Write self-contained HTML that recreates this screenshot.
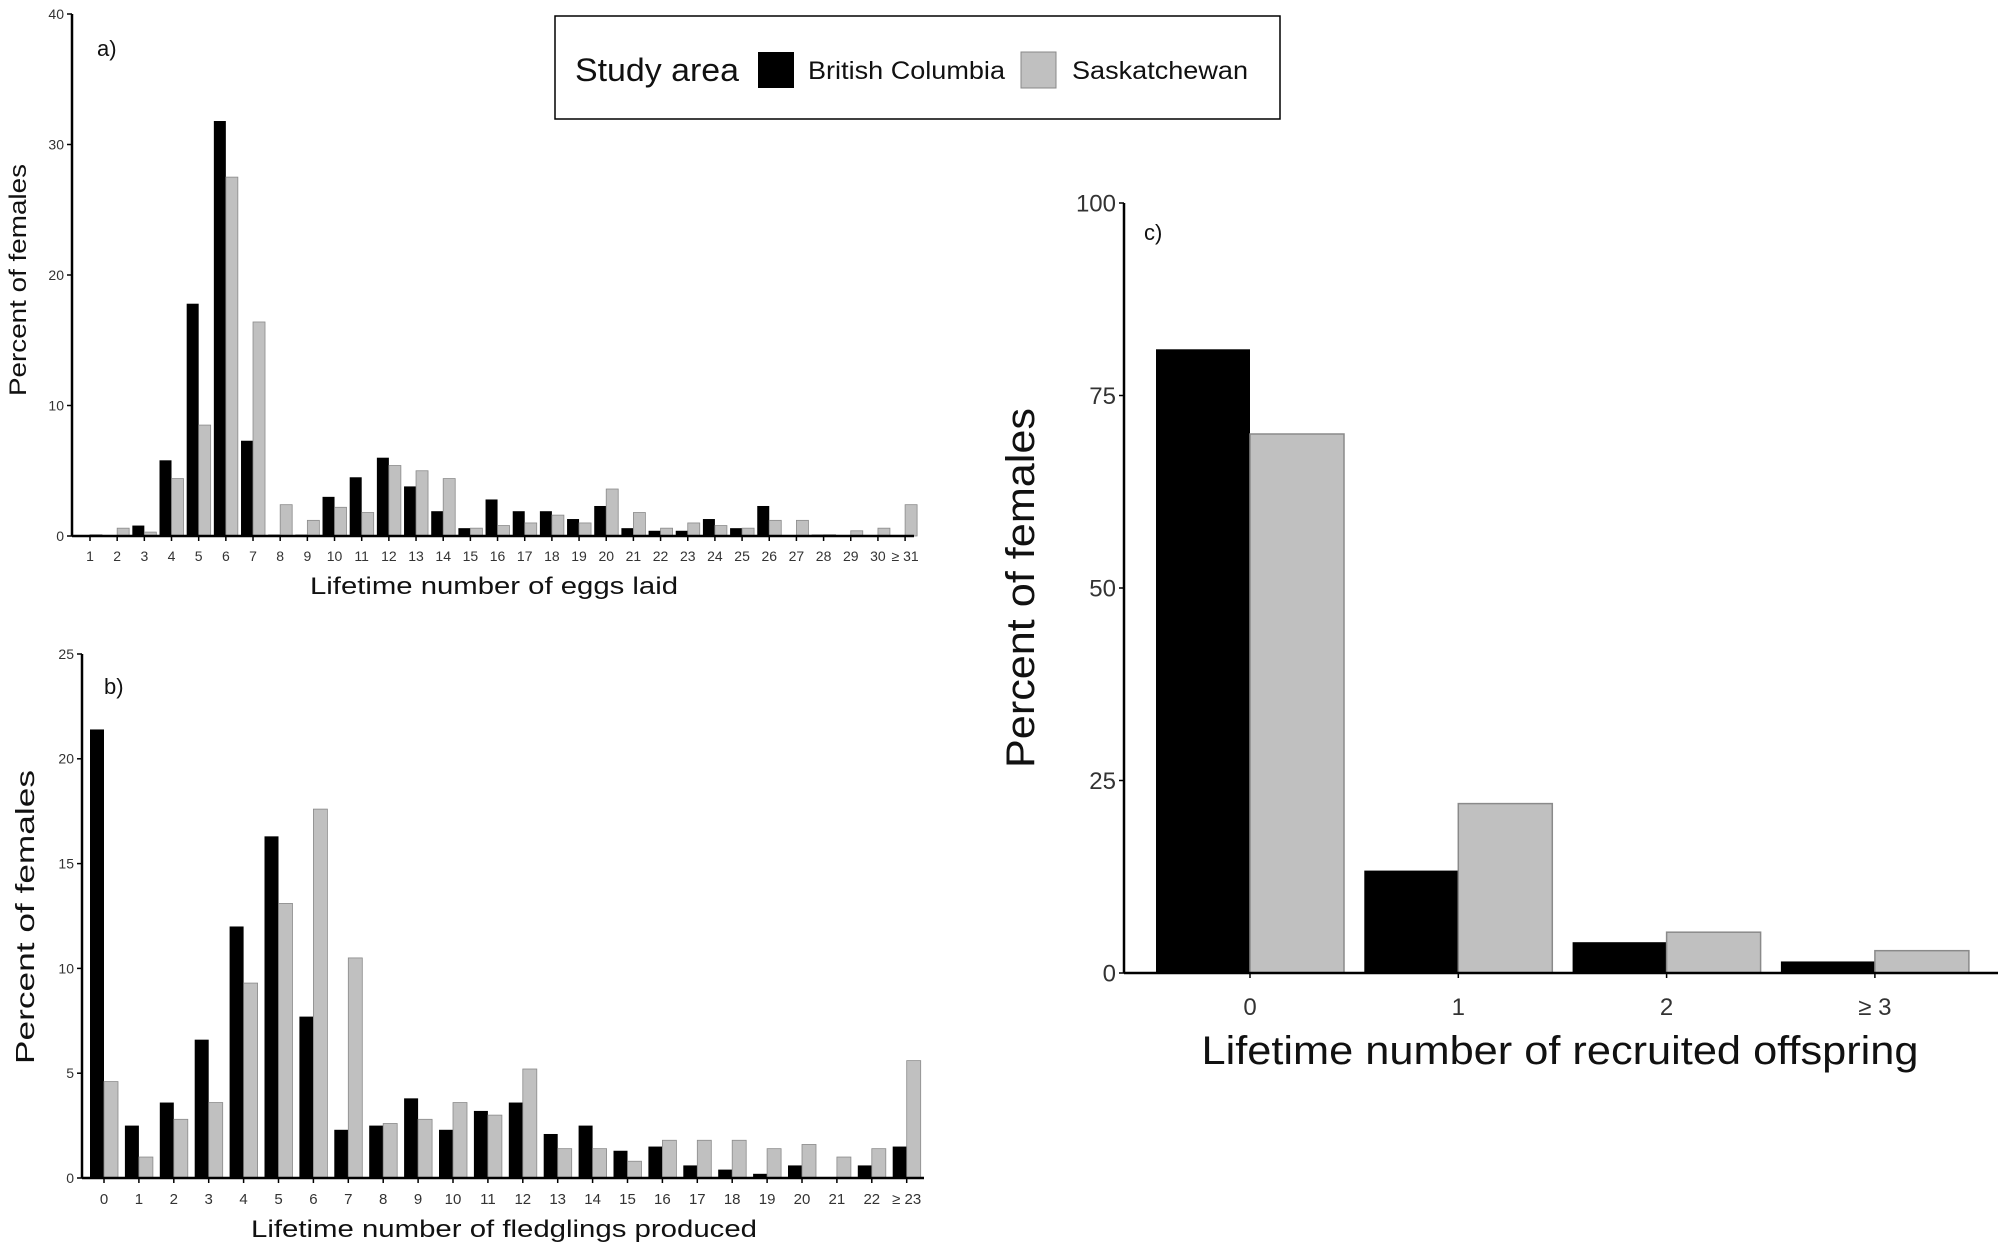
<!DOCTYPE html>
<html><head><meta charset="utf-8"><style>
html,body{margin:0;padding:0;background:#fff;}
svg{display:block;font-family:"Liberation Sans",sans-serif;}
</style></head><body>
<svg id="fig" width="2006" height="1250" viewBox="0 0 2006 1250" xmlns="http://www.w3.org/2000/svg">
  <g>
    <rect x="555" y="16" width="725" height="103" fill="#fff" stroke="#000" stroke-width="1.5"/>
    <text x="575" y="81" font-size="32" fill="#111" textLength="164" lengthAdjust="spacingAndGlyphs">Study area</text>
    <rect x="758" y="52" width="36" height="36" fill="#000"/>
    <text x="808" y="79" font-size="25" fill="#111" textLength="197" lengthAdjust="spacingAndGlyphs">British Columbia</text>
    <rect x="1021" y="52" width="35" height="36" fill="#c0c0c0" stroke="#888"/>
    <text x="1072" y="79" font-size="25" fill="#111" textLength="176" lengthAdjust="spacingAndGlyphs">Saskatchewan</text>
  </g>
</svg>
<script>
const catsA = ["1","2","3","4","5","6","7","8","9","10","11","12","13","14","15","16","17","18","19","20","21","22","23","24","25","26","27","28","29","30","≥ 31"];
const bcA = [0,0,0.8,5.8,17.8,31.8,7.3,0.1,0.1,3.0,4.5,6.0,3.8,1.9,0.6,2.8,1.9,1.9,1.3,2.3,0.6,0.4,0.4,1.3,0.6,2.3,0,0.1,0,0,0];
const skA = [0.1,0.6,0.3,4.4,8.5,27.5,16.4,2.4,1.2,2.2,1.8,5.4,5.0,4.4,0.6,0.8,1.0,1.6,1.0,3.6,1.8,0.6,1.0,0.8,0.6,1.2,1.2,0.1,0.4,0.6,2.4];
const ticksA = [0,10,20,30,40];

const catsB = ["0","1","2","3","4","5","6","7","8","9","10","11","12","13","14","15","16","17","18","19","20","21","22","≥ 23"];
const bcB = [21.4,2.5,3.6,6.6,12.0,16.3,7.7,2.3,2.5,3.8,2.3,3.2,3.6,2.1,2.5,1.3,1.5,0.6,0.4,0.2,0.6,0,0.6,1.5];
const skB = [4.6,1.0,2.8,3.6,9.3,13.1,17.6,10.5,2.6,2.8,3.6,3.0,5.2,1.4,1.4,0.8,1.8,1.8,1.8,1.4,1.6,1.0,1.4,5.6];
const ticksB = [0,5,10,15,20,25];

const catsC = ["0","1","2","≥ 3"];
const bcC = [81,13.3,4,1.5];
const skC = [70,22,5.3,2.9];
const ticksC = [0,25,50,75,100];

const NS = "http://www.w3.org/2000/svg";
const svg = document.getElementById('fig');
function mk(tag, attrs, parent){const e=document.createElementNS(NS,tag);for(const k in attrs)e.setAttribute(k,attrs[k]);(parent||svg).appendChild(e);return e;}

function chart(o){
  const g = mk('g',{});
  
  
  const y = v => o.y0 - (v - 0) / o.ymax * (o.y0 - o.yTop);
  const x = i => o.c0 + i * o.step;
  o.cats.forEach((c,i)=>{
    if (o.bc[i] > 0) {
      const r = mk('rect',{x:x(i)-o.bw, y:y(o.bc[i]), width:o.bw, height:o.y0 - y(o.bc[i]), fill:'#000'}, g);
      
      
    }
    if (o.sk[i] > 0) {
      const r2 = mk('rect',{x:x(i), y:y(o.sk[i]), width:o.bw, height:o.y0 - y(o.sk[i]), fill:'#c0c0c0', stroke:'#8a8a8a', 'stroke-width':o.sw}, g);
      
      
    }
  });
  const ya = mk('line',{x1:o.ax, y1:o.yTop, x2:o.ax, y2:o.y0, stroke:'#000', 'stroke-width':o.aw}, g);
  
  
  const xa = mk('line',{x1:o.ax, y1:o.y0, x2:o.xEnd, y2:o.y0, stroke:'#000', 'stroke-width':o.aw}, g);
  
  
  o.ticks.forEach(t=>{
    mk('line',{x1:o.ax-5, y1:y(t), x2:o.ax, y2:y(t), stroke:'#000', 'stroke-width':1.5}, g);
    const tl = mk('text',{x:o.ax-8, y:y(t)+o.tf*0.35, 'font-size':o.tf, 'text-anchor':'end', fill:'#333'}, g);
    tl.textContent = t;
    
    
  });
  o.cats.forEach((c,i)=>{
    mk('line',{x1:x(i), y1:o.y0, x2:x(i), y2:o.y0+5, stroke:'#000', 'stroke-width':1.5}, g);
    const tl = mk('text',{x:x(i), y:o.xly, 'font-size':o.xf, 'text-anchor':'middle', fill:'#333'}, g);
    tl.textContent = c;
    
    
  });
  const xt = mk('text',{x:o.xtx, y:o.xty, 'font-size':o.titf, 'text-anchor':'middle', fill:'#111', textLength:o.xtl, lengthAdjust:'spacingAndGlyphs'}, g);
  xt.textContent = o.xtitle;
  
  
  const yt = mk('text',{x:0, y:0, 'font-size':o.ytf, 'text-anchor':'middle', fill:'#111', transform:`translate(${o.ytx},${o.yty}) rotate(-90)`, textLength:o.ytl, lengthAdjust:'spacingAndGlyphs'}, g);
  yt.textContent = 'Percent of females';
  
  
  const pl = mk('text',{x:o.plx, y:o.ply, 'font-size':o.plf, fill:'#111'}, g);
  pl.textContent = o.panel;
  
  
}

chart({name:'chart-a-eggs', cats:catsA, bc:bcA, sk:skA, ticks:ticksA, ymax:40, y0:536, yTop:14, ax:72, xEnd:914, c0:90, step:27.17, bw:12, sw:0.8, aw:2.5, tf:14, xf:14, xly:561,
  xtitle:'Lifetime number of eggs laid', xtx:494, xty:594, xtl:368, titf:24, ytf:24, ytx:26, yty:280, ytl:232, panel:'a)', plx:97, ply:56, plf:22});
chart({name:'chart-b-fledglings', cats:catsB, bc:bcB, sk:skB, ticks:ticksB, ymax:25, y0:1178, yTop:654, ax:82, xEnd:924, c0:104, step:34.9, bw:14, sw:0.8, aw:2.5, tf:14, xf:15, xly:1204,
  xtitle:'Lifetime number of fledglings produced', xtx:504, xty:1237, xtl:506, titf:24, ytf:26, ytx:34, yty:917, ytl:294, panel:'b)', plx:104, ply:694, plf:22});
chart({name:'chart-c-recruits', cats:catsC, bc:bcC, sk:skC, ticks:ticksC, ymax:100, y0:973, yTop:203, ax:1124, xEnd:1998, c0:1250, step:208.3, bw:94, sw:1.5, aw:2.5, tf:24, xf:24, xly:1015,
  xtitle:'Lifetime number of recruited offspring', xtx:1560, xty:1064, xtl:717, titf:40, ytf:40, ytx:1034, yty:588, ytl:360, panel:'c)', plx:1144, ply:240, plf:22});
</script>
</body></html>
